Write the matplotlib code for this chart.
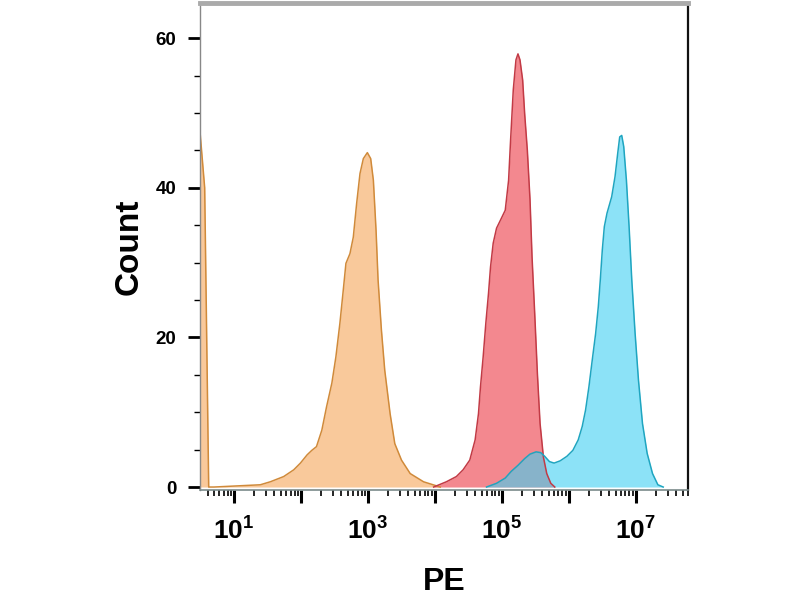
import numpy as np
import matplotlib.pyplot as plt
from matplotlib.ticker import FixedLocator, FixedFormatter, LogLocator, NullFormatter, MultipleLocator

plt.rcParams['font.family'] = ['Liberation Sans', 'DejaVu Sans']
plt.rcParams['font.weight'] = 'bold'
plt.rcParams['mathtext.fontset'] = 'custom'
plt.rcParams['mathtext.bf'] = 'Liberation Sans:bold'
plt.rcParams['mathtext.rm'] = 'Liberation Sans:bold'

# histogram outlines (log10 of PE, count)
orange_log = [0.49, 0.56, 0.62, 0.70, 1.39, 1.54, 1.74, 1.89, 1.99, 2.09, 2.16, 2.23,
              2.31, 2.38, 2.46, 2.52, 2.58, 2.63, 2.67, 2.73, 2.78, 2.83, 2.88, 2.93,
              2.99, 3.04, 3.08, 3.12, 3.15, 3.20, 3.25, 3.33, 3.40, 3.50, 3.63, 3.83,
              4.08]
orange_cnt = [47.5, 40, 0, 0, 0.3, 0.7, 1.4, 2.3, 3.2, 4.3, 4.9, 5.4,
              7.6, 10.7, 13.9, 17.4, 21.9, 26.3, 29.9, 31.2, 33.4, 37.9, 41.9, 43.9,
              44.7, 43.9, 41.0, 34.3, 27.7, 21.0, 15.6, 9.8, 5.8, 3.6, 1.8, 0.7,
              0]

red_log = [3.98, 4.17, 4.32, 4.42, 4.52, 4.60, 4.65, 4.68, 4.72, 4.76, 4.80, 4.83,
           4.87, 4.92, 4.98, 5.05, 5.10, 5.13, 5.17, 5.21, 5.24, 5.27, 5.31, 5.34,
           5.38, 5.42, 5.45, 5.49, 5.53, 5.57, 5.62, 5.67, 5.73, 5.79]
red_cnt = [0, 0.7, 1.4, 2.3, 3.6, 6.3, 9.8, 13.4, 17.4, 21.9, 25.9, 29.4,
           32.6, 34.6, 35.7, 37.0, 41.0, 46.4, 53.1, 57.1, 57.9, 57.1, 54.4, 49.9,
           45.0, 38.4, 30.8, 23.2, 15.2, 8.5, 4.0, 1.8, 0.5, 0]

blue_log = [4.77, 4.92, 5.05, 5.14, 5.24, 5.34, 5.42, 5.51, 5.58, 5.64, 5.71, 5.78,
            5.87, 5.97, 6.06, 6.14, 6.20, 6.25, 6.30, 6.35, 6.40, 6.44, 6.47, 6.50,
            6.53, 6.57, 6.64, 6.69, 6.73, 6.76, 6.79, 6.82, 6.86, 6.90, 6.94, 6.99,
            7.04, 7.10, 7.17, 7.25, 7.33, 7.41]
blue_cnt = [0, 0.5, 1.2, 2.1, 2.9, 3.8, 4.4, 4.7, 4.6, 4.1, 3.4, 3.2,
            3.5, 4.1, 4.9, 6.3, 8.1, 10.3, 13.4, 17.0, 20.5, 24.1, 27.7, 31.7,
            34.8, 36.6, 38.8, 41.5, 44.6, 46.8, 47.0, 45.5, 41.0, 34.8, 27.7, 20.5,
            14.3, 8.5, 4.5, 1.8, 0.3, 0]

series = [
    (orange_log, orange_cnt, '#f7b77a', 0.75, '#d08a3a'),
    (red_log, red_cnt, '#f06b73', 0.80, '#c23a45'),
    (blue_log, blue_cnt, '#3fd0f2', 0.60, '#1fa5c0'),
]

fig = plt.figure(figsize=(8, 6), dpi=100)
ax = fig.add_axes([0.25, 0.1833, 0.61, 0.8117])

for lg, cnt, fc, a, ec in series:
    x = 10 ** np.array(lg)
    ax.fill_between(x, 0, cnt, color=fc, alpha=a, linewidth=0)
    ax.plot(x, cnt, color=ec, linewidth=1.1)

ax.set_xscale('log')
ax.set_xlim(10 ** 0.49, 10 ** 7.78)
ax.set_ylim(-0.4, 64.7)

decades = [10.0 ** d for d in range(1, 8)]
labels = [r'$\mathbf{10^{%d}}$' % d if d % 2 else '' for d in range(1, 8)]
ax.xaxis.set_major_locator(FixedLocator(decades))
ax.xaxis.set_major_formatter(FixedFormatter(labels))
ax.xaxis.set_minor_locator(LogLocator(base=10, subs=np.arange(2, 10), numticks=20))
ax.xaxis.set_minor_formatter(NullFormatter())
ax.tick_params(axis='x', which='major', length=9, width=2.2, labelsize=19, pad=11)
ax.tick_params(axis='x', which='minor', length=4, width=1.2)

ax.yaxis.set_major_locator(FixedLocator([0, 20, 40, 60]))
ax.yaxis.set_minor_locator(MultipleLocator(5))
ax.tick_params(axis='y', which='major', length=9, width=2, labelsize=13.5, pad=8)
ax.tick_params(axis='y', which='minor', length=4, width=1)

ax.spines['top'].set_color('#aaaaaa')
ax.spines['top'].set_linewidth(3.5)
ax.spines['left'].set_color('#888888')
ax.spines['left'].set_linewidth(1)
ax.spines['right'].set_color('#111111')
ax.spines['right'].set_linewidth(1.6)
ax.spines['bottom'].set_color('#7a8a8a')
ax.spines['bottom'].set_linewidth(1.2)

ax.set_ylabel('Count', fontsize=24, fontweight='bold', labelpad=8)
ax.set_xlabel('PE', fontsize=23, fontweight='bold', labelpad=16)

fig.savefig('out.png', dpi=100)
